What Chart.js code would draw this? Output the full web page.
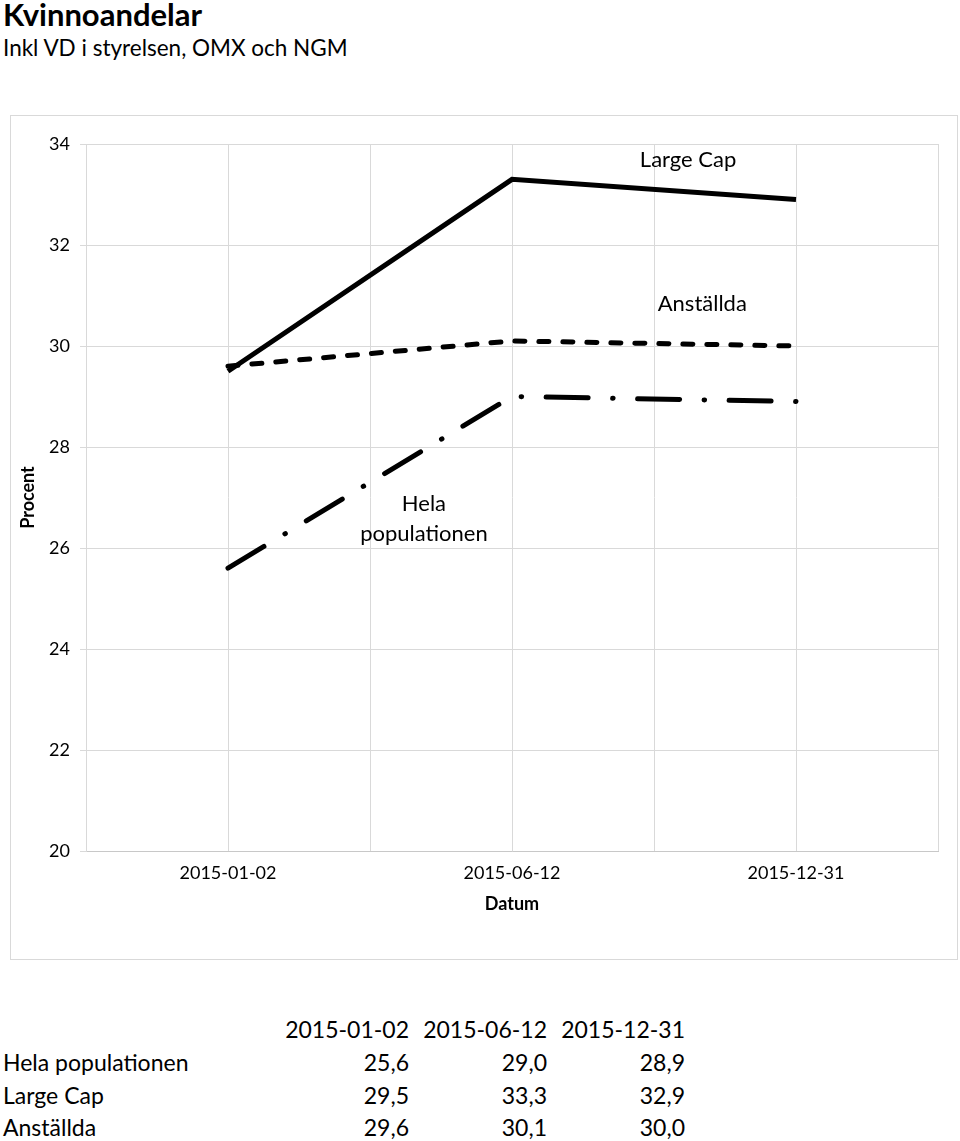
<!DOCTYPE html>
<html>
<head>
<meta charset="utf-8">
<script src="https://cdn.jsdelivr.net/npm/chart.js@4/dist/chart.umd.min.js"></script>
<style>
  body { margin: 0; background: #fff; font-family: Lato, "Open Sans", sans-serif; color: #000; }
  #title { position: absolute; left: 3px; top: -5px; font-size: 31px; font-weight: bold; }
  #subtitle { position: absolute; left: 3px; top: 34px; font-size: 22.5px; }
  #box { position: absolute; left: 10px; top: 115px; width: 946px; height: 843px; border: 1px solid #d9d9d9; }
  #table { position: absolute; left: 0; top: 1013px; font-size: 23px; border-collapse: collapse; }
  #table td { padding: 0; height: 32.7px; text-align: right; }
  #table td:first-child { text-align: left; padding-left: 3px; width: 268px; }
  #table td.v { width: 138px; }
</style>
</head>
<body>
<div id="title">Kvinnoandelar</div>
<div id="subtitle">Inkl VD i styrelsen, OMX och NGM</div>
<div id="box"><canvas id="chart"></canvas></div>
<table id="table"></table>
<script>
const dates = ['2015-01-02', '2015-06-12', '2015-12-31'];
const helaPopulationen = [25.6, 29.0, 28.9];
const largeCap = [29.5, 33.3, 32.9];
const anstallda = [29.6, 30.1, 30.0];
const yTicks = [20, 22, 24, 26, 28, 30, 32, 34];

const toPoints = values => values.map((v, i) => ({ x: i, y: v }));

// text labels placed in data coordinates
const lineLabels = [
  { text: ['Large Cap'], x: 1.62, y: 33.68 },
  { text: ['Anställda'], x: 1.67, y: 30.83 },
  { text: ['Hela', 'populationen'], x: 0.69, y: 26.58 },
];

const labelPlugin = {
  id: 'lineLabels',
  afterDatasetsDraw(chart) {
    const { ctx, scales } = chart;
    ctx.save();
    ctx.font = '22px Lato, "Open Sans", sans-serif';
    ctx.fillStyle = '#000';
    ctx.textAlign = 'center';
    ctx.textBaseline = 'middle';
    lineLabels.forEach(l => {
      const px = scales.x.getPixelForValue(l.x);
      const py = scales.y.getPixelForValue(l.y);
      const lh = 30;
      l.text.forEach((t, i) => {
        ctx.fillText(t, px, py + (i - (l.text.length - 1) / 2) * lh);
      });
    });
    ctx.restore();
  },
};

const font = { family: 'Lato, "Open Sans", sans-serif', size: 18 };

new Chart(document.getElementById('chart'), {
  type: 'line',
  data: {
    datasets: [
      {
        label: 'Large Cap',
        data: toPoints(largeCap),
        borderColor: '#000',
        borderWidth: 5,
        pointRadius: 0,
        tension: 0,
        borderCapStyle: 'butt',
      },
      {
        label: 'Anställda',
        data: toPoints(anstallda),
        borderColor: '#000',
        borderWidth: 5,
        pointRadius: 0,
        tension: 0,
        borderDash: [10, 14],
        borderCapStyle: 'round',
      },
      {
        label: 'Hela populationen',
        data: toPoints(helaPopulationen),
        borderColor: '#000',
        borderWidth: 5,
        pointRadius: 0,
        tension: 0,
        borderDash: [42, 24.5, 0.5, 24.5],
        borderCapStyle: 'round',
      },
    ],
  },
  options: {
    responsive: true,
    maintainAspectRatio: false,
    animation: false,
    layout: { padding: { left: 0, top: 28, right: 19, bottom: 40 } },
    plugins: { legend: { display: false }, tooltip: { enabled: false } },
    scales: {
      x: {
        type: 'linear',
        min: -0.5,
        max: 2.5,
        afterBuildTicks: axis => {
          axis.ticks = [-0.5, 0, 0.5, 1, 1.5, 2, 2.5].map(v => ({ value: v }));
        },
        afterFit: axis => { axis.height = 68; },
        grid: { color: '#d9d9d9', drawTicks: false },
        border: { color: '#c8c8c8' },
        ticks: {
          autoSkip: false,
          maxRotation: 0,
          padding: 11,
          color: '#000',
          font,
          callback: v => (Number.isInteger(v) ? dates[v] : ''),
        },
        title: { display: true, text: 'Datum', color: '#000', font: { ...font, weight: 'bold' }, padding: { top: 4 } },
      },
      y: {
        min: 20,
        max: 34,
        afterBuildTicks: axis => { axis.ticks = yTicks.map(v => ({ value: v })); },
        afterFit: axis => { axis.width = 75; },
        grid: { color: '#d9d9d9', tickLength: 6 },
        border: { color: '#d9d9d9' },
        ticks: { padding: 10, color: '#000', font },
        title: { display: true, text: 'Procent', color: '#000', font: { ...font, weight: 'bold' }, padding: { bottom: 0, top: 6 } },
      },
    },
  },
  plugins: [labelPlugin],
});

const table = document.getElementById('table');
const rows = [
  ['', ...dates],
  ['Hela populationen', ...helaPopulationen],
  ['Large Cap', ...largeCap],
  ['Anställda', ...anstallda],
];
table.innerHTML = rows
  .map((row, r) => '<tr>' + row
    .map((cell, c) => {
      const txt = r > 0 && c > 0 ? cell.toFixed(1).replace('.', ',') : cell;
      return `<td${c > 0 ? ' class="v"' : ''}>${txt}</td>`;
    })
    .join('') + '</tr>')
  .join('');
</script>
</body>
</html>
